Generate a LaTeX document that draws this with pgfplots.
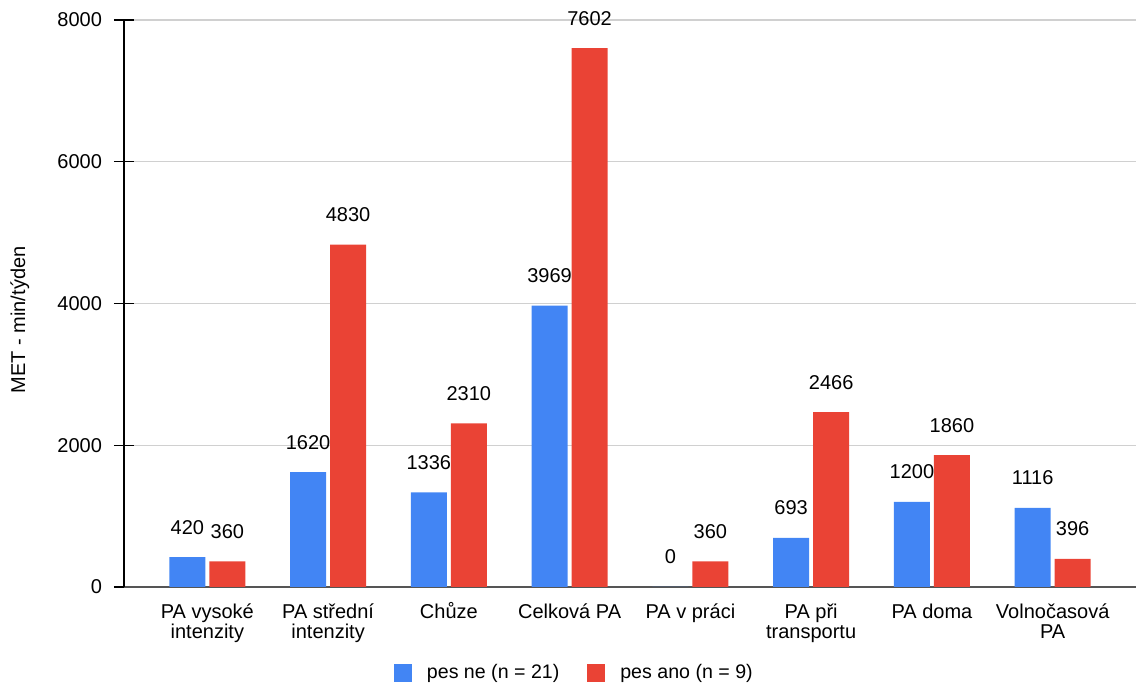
\documentclass[border=0pt]{standalone}
\usepackage{fontspec}
\setmainfont{Liberation Sans}
\usepackage{pgfplots}
\pgfplotsset{compat=1.18}
\definecolor{gblue}{HTML}{4285F4}
\definecolor{gred}{HTML}{EA4335}
\definecolor{ggrid}{HTML}{D0D0D0}
\definecolor{gaxis}{HTML}{555555}
\newcommand\tl{\rule{0pt}{9.5pt}}
\begin{document}
\begin{tikzpicture}
\useasboundingbox (-62pt,-48.5pt) rectangle (506pt,293.5pt);
\begin{axis}[
  scale only axis,
  width=506pt, height=283.5pt,
  ybar=2pt, bar width=18pt,
  xmin=-0.69, xmax=7.69,
  ymin=0, ymax=8000,
  ytick={0,2000,4000,6000,8000},
  xtick={0,1,2,3,4,5,6,7},
  xticklabels={\tl PA vysoké\\intenzity, \tl PA střední\\intenzity, \tl Chůze, \tl Celková PA, \tl PA v práci, \tl PA při\\transportu, \tl PA doma, \tl Volnočasová\\PA},
  axis x line*=bottom, axis y line*=left,
  axis line style={line width=0.6pt, -},
  x axis line style={gaxis},
  y axis line style={black},
  ymajorgrids, grid style={ggrid, line width=0.6pt},
  xtick style={draw=none},
  ytick style={black, line width=0.6pt},
  tick align=center, major tick length=10pt,
  /pgf/number format/1000 sep={},
  /pgf/number format/assume math mode=true,
  tick label style={font=\fontsize{10}{10.2}\selectfont},
  xticklabel style={align=center, anchor=north, yshift=2.5pt},
  yticklabel style={xshift=-2.5pt},
  ylabel={MET - min/týden},
  ylabel style={font=\fontsize{10}{10}\selectfont, at={(axis description cs:-0.103,0.471)}, anchor=center},
  nodes near coords,
  every node near coord/.append style={font=\fontsize{10}{10}\selectfont, anchor=center, yshift=15pt, black},
  legend style={at={(axis description cs:0.446,-0.152)}, anchor=center, draw=none, legend columns=2,
    font=\fontsize{9.8}{10}\selectfont,
    /tikz/every odd column/.append style={column sep=5.5pt},
    /tikz/every even column/.append style={column sep=12pt}},
  legend image code/.code={\fill[#1] (0pt,-4.5pt) rectangle (9pt,4.5pt);},
]
\addplot[fill=gblue, draw=none] coordinates {(0,420) (1,1620) (2,1336) (3,3969) (4,0) (5,693) (6,1200) (7,1116)};
\addplot[fill=gred, draw=none] coordinates {(0,360) (1,4830) (2,2310) (3,7602) (4,360) (5,2466) (6,1860) (7,396)};
\legend{pes ne (n = 21), pes ano (n = 9)}
\end{axis}
\end{tikzpicture}
\end{document}
